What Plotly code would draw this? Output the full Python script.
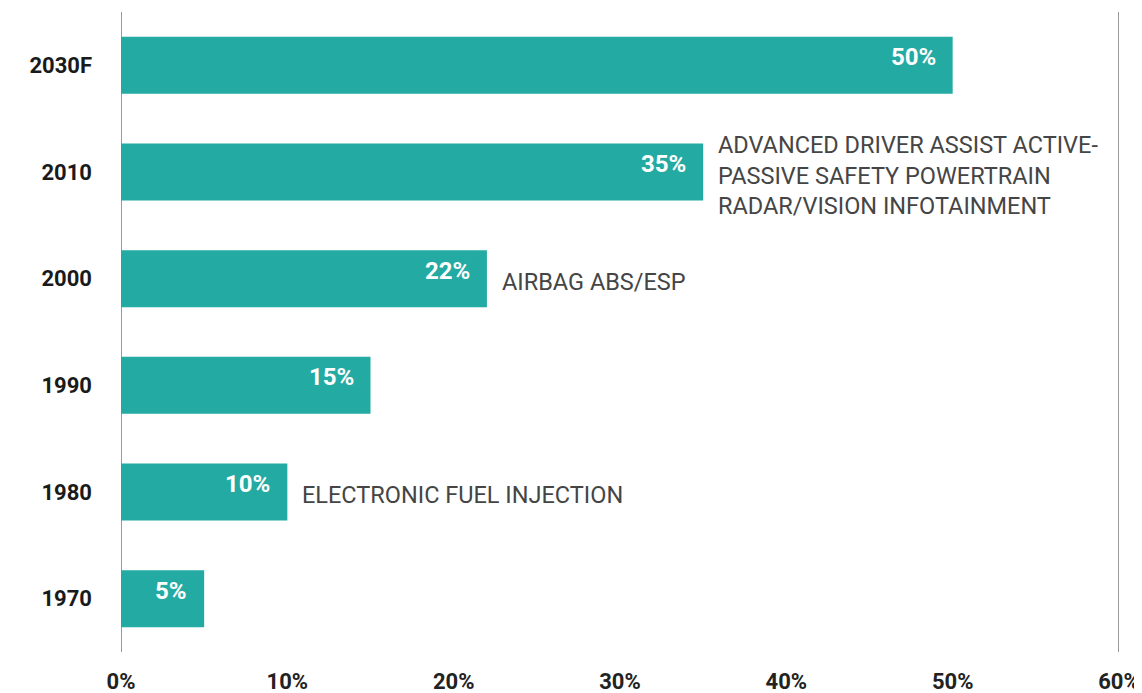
import plotly.graph_objects as go

categories = ["1970", "1980", "1990", "2000", "2010", "2030F"]
values = [5, 10, 15, 22, 35, 50]
value_labels = ["5%", "10%", "15%", "22%", "35%", "50%"]
notes = ["", "ELECTRONIC FUEL INJECTION", "", "AIRBAG ABS/ESP",
         "ADVANCED DRIVER ASSIST ACTIVE-<br>PASSIVE SAFETY POWERTRAIN<br>RADAR/VISION INFOTAINMENT", ""]
tick_vals = [0, 10, 20, 30, 40, 50, 60]
tick_text = ["0%", "10%", "20%", "30%", "40%", "50%", "60%"]

TEAL = "#23aaa3"
FONT = "Roboto"

fig = go.Figure()
fig.add_trace(go.Bar(
    y=list(range(len(categories))), x=values, orientation="h",
    marker=dict(color=TEAL, line=dict(width=0)),
    width=0.535, hoverinfo="skip",
))

annotations = []
for i, (v, lab, note) in enumerate(zip(values, value_labels, notes)):
    annotations.append(dict(
        x=v, y=i, xref="x", yref="y", text=lab, showarrow=False,
        xanchor="right", yanchor="middle", xshift=-15, yshift=8,
        font=dict(family=FONT, size=24, color="white", weight="bold"),
    ))
    if note:
        annotations.append(dict(
            x=v, y=i, xref="x", yref="y", text=note, showarrow=False,
            xanchor="left", yanchor="middle", align="left", xshift=13, yshift=-3,
            font=dict(family=FONT, size=23.5, color="#454545"),
        ))

fig.update_layout(
    width=1142, height=693,
    margin=dict(l=113, r=31, t=4, b=49),
    paper_bgcolor="white", plot_bgcolor="white",
    showlegend=False,
    annotations=annotations,
    xaxis=dict(
        range=[0, 60], tickvals=tick_vals, ticktext=tick_text,
        showgrid=False, zeroline=False, showline=False,
        tickfont=dict(family=FONT, size=22, color="#222222", weight="bold"),
        ticks="", ticklabelstandoff=14, fixedrange=True, automargin=False,
    ),
    yaxis=dict(
        tickvals=list(range(len(categories))), ticktext=categories,
        range=[-0.5, 5.5], showgrid=False, zeroline=False,
        showline=False, ticks="",
        tickfont=dict(family=FONT, size=22, color="#1a1a1a", weight="bold"),
        ticklabelstandoff=28, fixedrange=True, automargin=False,
    ),
    shapes=[
        dict(type="line", xref="x", yref="paper", x0=0, x1=0, y0=0, y1=1,
             line=dict(color="#9a9a9a", width=2), layer="below"),
        dict(type="line", xref="x", yref="paper", x0=60, x1=60, y0=0, y1=1,
             line=dict(color="#9a9a9a", width=2), layer="below"),
    ],
)

fig.write_html("out.html")
